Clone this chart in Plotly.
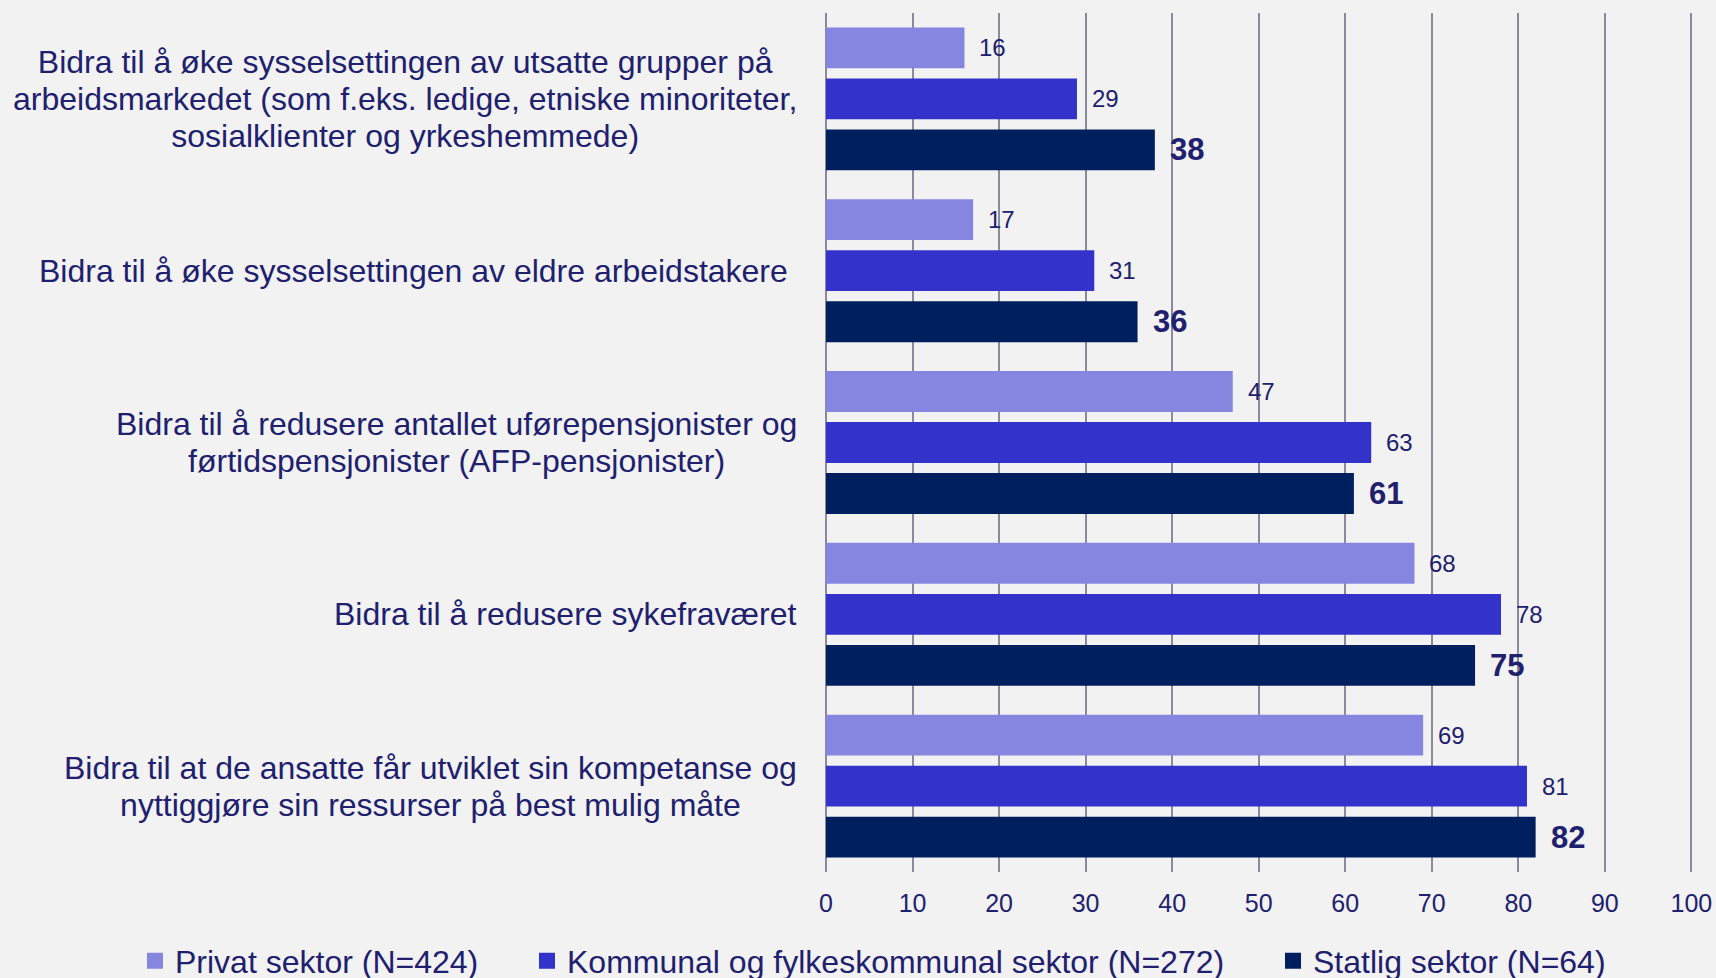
import plotly.graph_objects as go

categories = [
    "Bidra til å øke sysselsettingen av utsatte grupper på<br>arbeidsmarkedet (som f.eks. ledige, etniske minoriteter,<br>sosialklienter og yrkeshemmede)",
    "Bidra til å øke sysselsettingen av eldre arbeidstakere\u00a0",
    "Bidra til å redusere antallet uførepensjonister og<br>førtidspensjonister (AFP-pensjonister)",
    "Bidra til å redusere sykefraværet",
    "Bidra til at de ansatte får utviklet sin kompetanse og<br>nyttiggjøre sin ressurser på best mulig måte",
]
series_names = [
    "Privat sektor (N=424)",
    "Kommunal og fylkeskommunal sektor (N=272)",
    "Statlig sektor (N=64)",
]
privat = [16, 17, 47, 68, 69]
kommunal = [29, 31, 63, 78, 81]
statlig = [38, 36, 61, 75, 82]
x_ticks = [0, 10, 20, 30, 40, 50, 60, 70, 80, 90, 100]

colors = ["#8686e0", "#3333cc", "#001f5f"]
text_color = "#20206e"
grid_color = "#8a8a9c"
font_family = "Arial, Liberation Sans, sans-serif"

series = [privat, kommunal, statlig]
bargap = 0.109
slot = (1 - bargap) / 3

fig = go.Figure()
idx = list(range(len(categories)))
for k, (name, vals) in enumerate(zip(series_names, series)):
    fig.add_trace(go.Bar(
        x=vals, y=idx, orientation="h", name=name,
        marker=dict(color=colors[k], line=dict(width=0)),
        showlegend=False, hoverinfo="x",
    ))

legend_keys = ["legend", "legend2", "legend3"]
for k, name in enumerate(series_names):
    fig.add_trace(go.Scatter(
        x=[None], y=[None], mode="markers", name=name,
        marker=dict(symbol="square", size=16, color=colors[k]),
        legend=legend_keys[k], showlegend=True,
    ))

annotations = []
# data labels
for k, vals in enumerate(series):
    bold = (k == 2)
    for i, v in enumerate(vals):
        annotations.append(dict(
            x=v, y=i + (k - 1) * slot, xref="x", yref="y",
            text=(f"<b>{v}</b>" if bold else str(v)),
            showarrow=False, xanchor="left", yanchor="middle",
            xshift=13,
            font=dict(size=31 if bold else 24, color=text_color, family=font_family),
        ))
# category labels
for i, c in enumerate(categories):
    lines = c.split("<br>")
    txt = "<br>".join(f'<span style="font-size:32px">{ln}</span>' for ln in lines)
    annotations.append(dict(
        x=0, y=i, xref="paper", yref="y", text=txt, showarrow=False,
        xanchor="right", yanchor="middle", align="center", xshift=-27,
        font=dict(size=28.6, color=text_color, family=font_family),
    ))

legend_x = [135, 527, 1273]
legend_common = dict(
    orientation="h", xref="container", yref="container", yanchor="middle",
    xanchor="left", y=1 - 961 / 978, bgcolor="rgba(0,0,0,0)", borderwidth=0,
    font=dict(size=32, color=text_color, family=font_family),
)

fig.update_layout(
    width=1716, height=978,
    margin=dict(l=826, r=22, t=13, b=106, autoexpand=False),
    paper_bgcolor="#f2f2f2", plot_bgcolor="#f2f2f2",
    barmode="group", bargap=bargap, bargroupgap=0.2,
    font=dict(family=font_family, color=text_color),
    xaxis=dict(
        range=[0, 100.3], tickvals=x_ticks, ticktext=[str(t) for t in x_ticks],
        showgrid=True, gridcolor=grid_color, gridwidth=2,
        zeroline=True, zerolinecolor=grid_color, zerolinewidth=2,
        showline=False, ticks="", ticklabelstandoff=14, automargin=False,
        tickfont=dict(size=25, color=text_color, family=font_family),
    ),
    yaxis=dict(
        autorange="reversed", showticklabels=False, showgrid=False,
        zeroline=False, showline=False, tickvals=idx, automargin=False,
    ),
    legend=dict(x=legend_x[0] / 1716, **legend_common),
    legend2=dict(x=legend_x[1] / 1716, **legend_common),
    legend3=dict(x=legend_x[2] / 1716, **legend_common),
    annotations=annotations,
    hovermode=False,
)

fig.write_html(
    "out.html",
    config={"displayModeBar": False},
    post_script="document.body.style.margin='0';document.body.style.overflow='hidden';",
)
